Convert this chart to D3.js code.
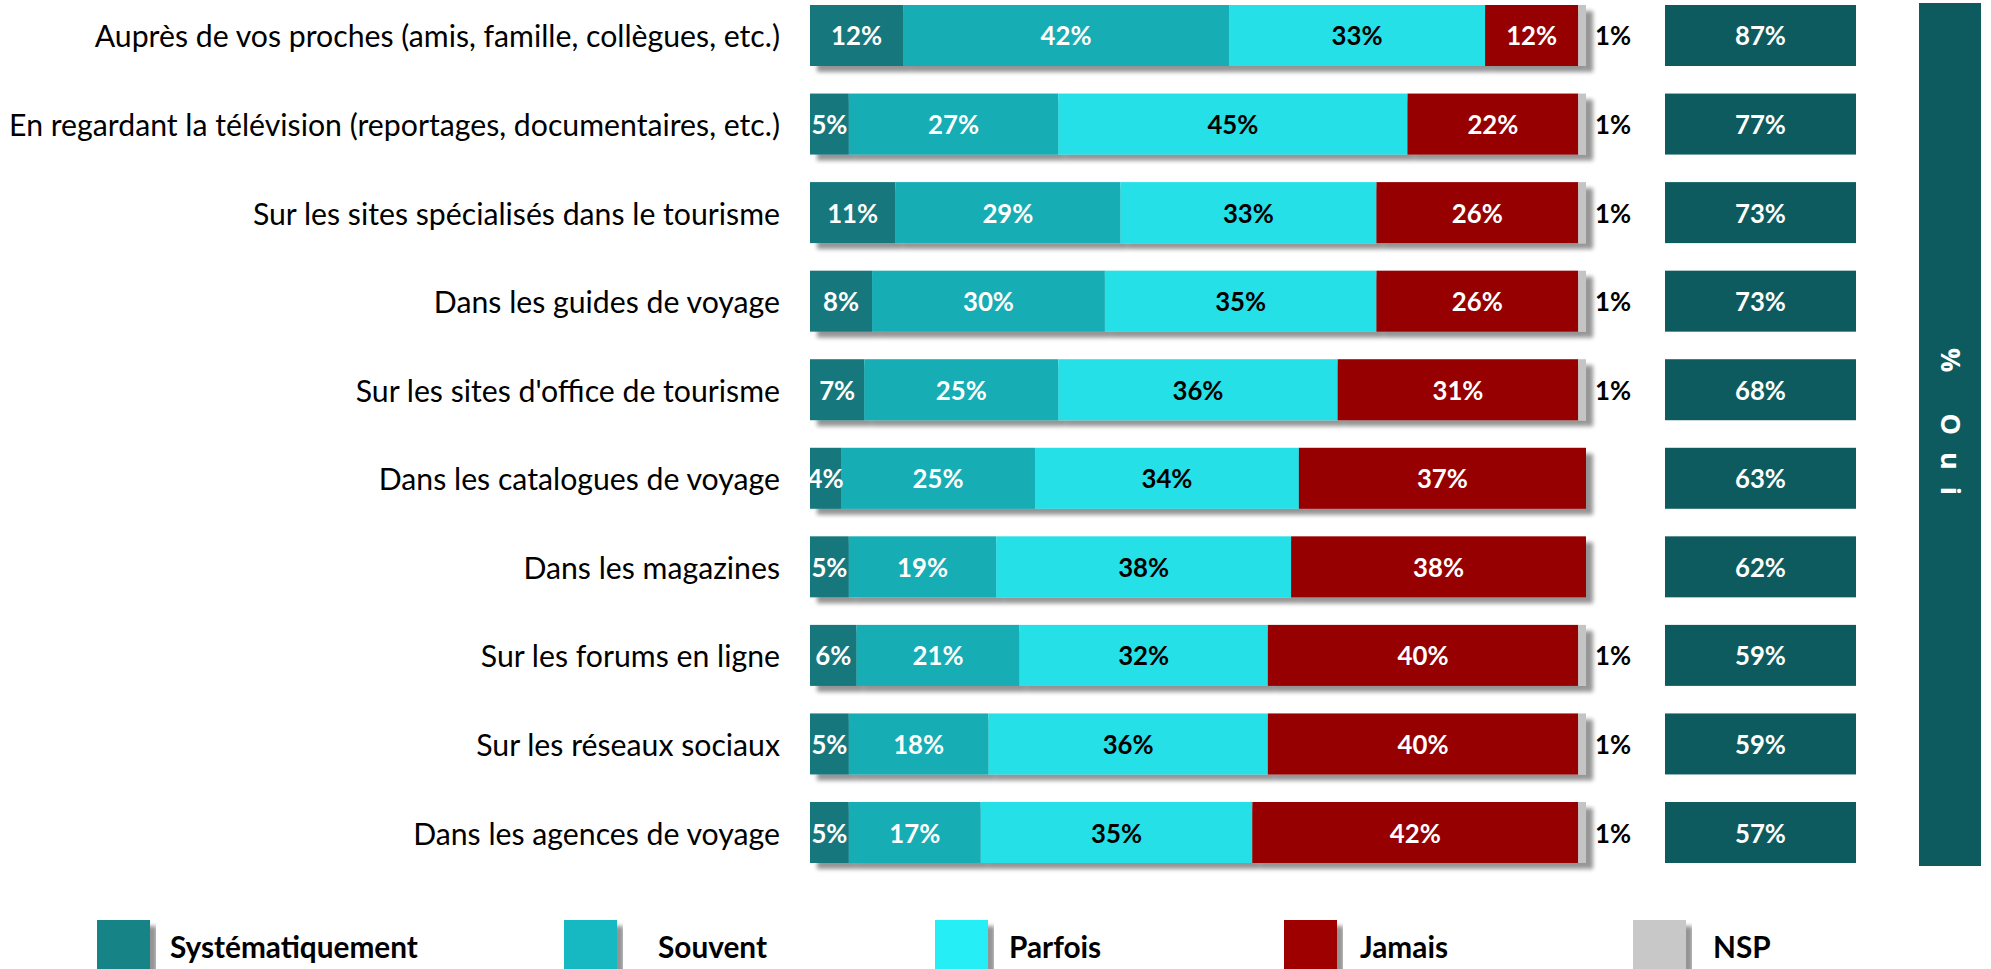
<!DOCTYPE html>
<html><head><meta charset="utf-8">
<script src="https://cdn.jsdelivr.net/npm/d3@7"></script>
<style>body{margin:0;background:#fff;overflow:hidden} svg{display:block}</style>
</head><body>
<script>
const categories = [
  "Auprès de vos proches (amis, famille, collègues, etc.)",
  "En regardant la télévision (reportages, documentaires, etc.)",
  "Sur les sites spécialisés dans le tourisme",
  "Dans les guides de voyage",
  "Sur les sites d'office de tourisme",
  "Dans les catalogues de voyage",
  "Dans les magazines",
  "Sur les forums en ligne",
  "Sur les réseaux sociaux",
  "Dans les agences de voyage"
];
const systematiquement = [12, 5, 11, 8, 7, 4, 5, 6, 5, 5];
const souvent          = [42, 27, 29, 30, 25, 25, 19, 21, 18, 17];
const parfois          = [33, 45, 33, 35, 36, 34, 38, 32, 36, 35];
const jamais           = [12, 22, 26, 26, 31, 37, 38, 40, 40, 42];
const nsp              = [1, 1, 1, 1, 1, 0, 0, 1, 1, 1];
const oui              = [87, 77, 73, 73, 68, 63, 62, 59, 59, 57];
const seriesNames = ["Systématiquement", "Souvent", "Parfois", "Jamais", "NSP"];
const ouiTitle = "% Oui";

const barColors    = ["#13777c", "#14adb4", "#26e0e8", "#960000", "#c4c4c4"];
const legendColors = ["#148487", "#19b9c1", "#27eef6", "#9e0000", "#c8c8c8"];
const labelColors  = ["#ffffff", "#ffffff", "#000000", "#ffffff", "#000000"];
const ouiColor = "#0d5b5e";

const W = 1991, H = 969;
const FONT = "Lato, 'Open Sans', sans-serif";
const svg = d3.select("body").append("svg").attr("width", W).attr("height", H);

const defs = svg.append("defs");
const f = defs.append("filter").attr("id", "sh").attr("x", "-5%").attr("y", "-40%").attr("width", "115%").attr("height", "190%");
f.append("feGaussianBlur").attr("in", "SourceAlpha").attr("stdDeviation", 2.2);
f.append("feOffset").attr("dx", 7).attr("dy", 6).attr("result", "o");
f.append("feComponentTransfer").append("feFuncA").attr("type", "linear").attr("slope", 0.42);
const fm = f.append("feMerge");
fm.append("feMergeNode");
fm.append("feMergeNode").attr("in", "SourceGraphic");

function fitSize(sample, weight, target, base) {
  const t = svg.append("text").attr("font-family", FONT).attr("font-weight", weight)
    .attr("font-size", base).text(sample);
  const w = t.node().getComputedTextLength();
  t.remove();
  return base * target / w;
}

const labelSize = fitSize(categories[1], 400, 771, 26);
const valueSize = fitSize("12%", 700, 51, 24);
const legendSize = fitSize("Systématiquement", 700, 248, 28);

const y = d3.scaleBand().domain(categories).range([5, 863]).paddingInner(0.3112).paddingOuter(0);
const x = d3.scaleLinear().domain([0, 100]).range([810, 1586]);

const rows = categories.map((c, i) => ({
  cat: c,
  "Systématiquement": systematiquement[i],
  "Souvent": souvent[i],
  "Parfois": parfois[i],
  "Jamais": jamais[i],
  "NSP": nsp[i],
  oui: oui[i]
}));
const stacked = d3.stack().keys(seriesNames)(rows);

svg.append("g").selectAll("text").data(categories).join("text")
  .attr("x", 780).attr("y", d => y(d) + y.bandwidth() / 2)
  .attr("text-anchor", "end").attr("dominant-baseline", "central")
  .attr("font-family", FONT).attr("font-size", labelSize).attr("fill", "#000")
  .text(d => d);

const barRows = svg.append("g").selectAll("g").data(rows).join("g")
  .attr("filter", "url(#sh)");
barRows.each(function(r, ri) {
  const g = d3.select(this);
  stacked.forEach((s, si) => {
    const seg = s[ri];
    if (seg[1] - seg[0] <= 0) return;
    g.append("rect")
      .attr("x", x(seg[0])).attr("y", y(r.cat))
      .attr("width", x(seg[1]) - x(seg[0])).attr("height", y.bandwidth())
      .attr("fill", barColors[si]);
  });
});

const lab = svg.append("g");
stacked.forEach((s, si) => {
  s.forEach((seg, ri) => {
    const v = seg[1] - seg[0];
    if (v <= 0) return;
    const isNsp = seriesNames[si] === "NSP";
    lab.append("text")
      .attr("x", isNsp ? x(seg[1]) + 9 : (x(seg[0]) + x(seg[1])) / 2)
      .attr("y", y(categories[ri]) + y.bandwidth() / 2)
      .attr("text-anchor", isNsp ? "start" : "middle")
      .attr("dominant-baseline", "central")
      .attr("font-family", FONT).attr("font-weight", 700).attr("font-size", valueSize)
      .attr("fill", labelColors[si])
      .text(v + "%");
  });
});

const og = svg.append("g");
og.selectAll("rect").data(rows).join("rect")
  .attr("x", 1665).attr("width", 191)
  .attr("y", d => y(d.cat)).attr("height", y.bandwidth())
  .attr("fill", ouiColor);
og.selectAll("text").data(rows).join("text")
  .attr("x", 1665 + 191 / 2).attr("y", d => y(d.cat) + y.bandwidth() / 2)
  .attr("text-anchor", "middle").attr("dominant-baseline", "central")
  .attr("font-family", FONT).attr("font-weight", 700).attr("font-size", valueSize)
  .attr("fill", "#fff").text(d => d.oui + "%");

svg.append("rect").attr("x", 1919).attr("y", 3).attr("width", 62).attr("height", 863).attr("fill", ouiColor);
svg.append("text")
  .attr("transform", "translate(1951,430) rotate(90)")
  .attr("text-anchor", "middle").attr("dominant-baseline", "central")
  .attr("font-family", "'Open Sans', sans-serif").attr("font-weight", 700).attr("font-size", 27)
  .attr("letter-spacing", 17).attr("fill", "#fff").text(ouiTitle);

const legendSwatchX = [97, 564, 935, 1284, 1633];
const legendTextX = [170, 658, 1009, 1360, 1713];
const lg = svg.append("g");
seriesNames.forEach((n, i) => {
  lg.append("rect").attr("x", legendSwatchX[i]).attr("y", 920).attr("width", 53).attr("height", 60)
    .attr("fill", legendColors[i]).attr("filter", "url(#sh)");
  lg.append("text").attr("x", legendTextX[i]).attr("y", 946)
    .attr("dominant-baseline", "central")
    .attr("font-family", FONT).attr("font-weight", 700).attr("font-size", legendSize)
    .attr("fill", "#000").text(n);
});
</script>
</body></html>
